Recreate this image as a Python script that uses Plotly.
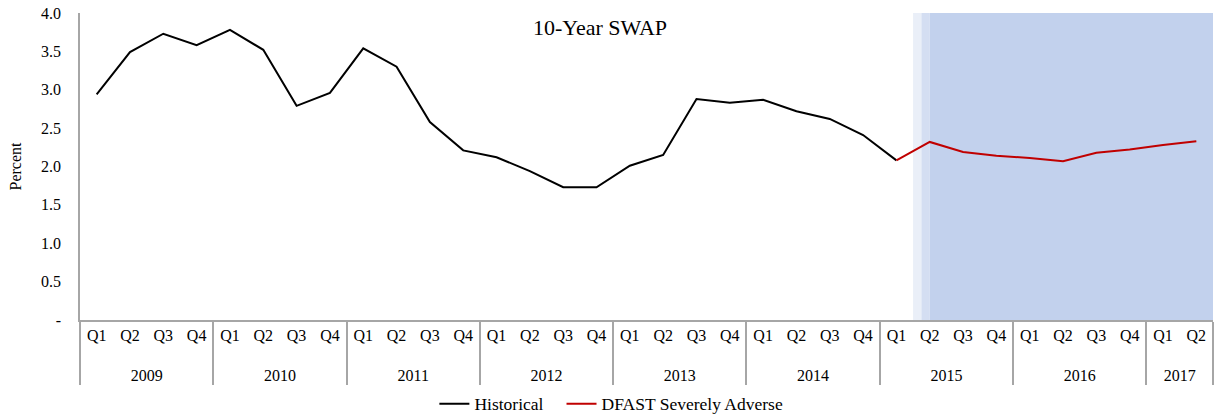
import plotly.graph_objects as go

# quarterly 10-year swap rate, percent
years = ["2009"] * 4 + ["2010"] * 4 + ["2011"] * 4 + ["2012"] * 4 + ["2013"] * 4 \
    + ["2014"] * 4 + ["2015"] * 4 + ["2016"] * 4 + ["2017"] * 2
quarters = ["Q1", "Q2", "Q3", "Q4"] * 8 + ["Q1", "Q2"]

historical = [2.94, 3.49, 3.73, 3.58, 3.78, 3.52, 2.79, 2.96,
              3.54, 3.30, 2.58, 2.21, 2.12, 1.94, 1.73, 1.73,
              2.01, 2.15, 2.88, 2.83, 2.87, 2.72, 2.62, 2.41,
              2.08] + [None] * 9
severely_adverse = [None] * 24 + [2.08, 2.32, 2.19, 2.14, 2.11, 2.07,
                                  2.18, 2.22, 2.28, 2.33]

y_ticks = [0, 0.5, 1.0, 1.5, 2.0, 2.5, 3.0, 3.5, 4.0]
y_labels = ["-", "0.5", "1.0", "1.5", "2.0", "2.5", "3.0", "3.5", "4.0"]

fc_start = 25  # first projected quarter (2015 Q2)
n = len(quarters)
FONT = "Liberation Serif"

# push the year row a bit lower, like the excel layout
year_row = [" <br>" + y for y in years]

fig = go.Figure()

# projection shading: two thin fade bands, then the main block
shade = [("#EAEFF8", fc_start - 0.5, fc_start - 0.25),
         ("#D4DEF2", fc_start - 0.25, fc_start),
         ("#C2D1ED", fc_start, n - 0.5)]
for col, a, b in shade:
    fig.add_shape(type="rect", xref="x", yref="y", x0=a, x1=b, y0=0, y1=4,
                  fillcolor=col, line_width=0, layer="below")

# trailing nbsp's widen the gap between the two legend entries
fig.add_trace(go.Scatter(x=[year_row, quarters], y=historical, mode="lines",
                         name="Historical\u00a0\u00a0\u00a0",
                         line=dict(color="black", width=2)))
fig.add_trace(go.Scatter(x=[year_row, quarters], y=severely_adverse, mode="lines",
                         name="DFAST Severely Adverse",
                         line=dict(color="#C00000", width=2)))

fig.add_annotation(text="10-Year SWAP", x=0.459, y=1.0, xref="paper", yref="paper",
                   yanchor="top", showarrow=False,
                   font=dict(size=22, color="black", family=FONT))

fig.update_layout(
    width=1221, height=418,
    margin=dict(l=80, r=8, t=13, b=98),
    plot_bgcolor="white", paper_bgcolor="white",
    font=dict(family=FONT, size=16, color="black"),
    showlegend=True,
    # container ref so the legend does not squeeze the plot area
    legend=dict(orientation="h", x=0.469, xanchor="center",
                yref="container", y=0.034, yanchor="middle",
                font=dict(size=17.5, family=FONT, color="black")),
    xaxis=dict(type="multicategory", range=[-0.5, n - 0.5], automargin=False,
               showline=True, linecolor="#A6A6A6",
               linewidth=1.5, showgrid=False, showdividers=True,
               dividercolor="#A6A6A6", dividerwidth=1.5, ticks="",
               tickfont=dict(size=16, family=FONT)),
    yaxis=dict(range=[0, 4], tickvals=y_ticks, ticktext=y_labels,
               showline=True, linecolor="#A6A6A6", linewidth=1.5,
               showgrid=False, zeroline=False, ticks="", automargin=False,
               ticklabelstandoff=14, tickfont=dict(size=16, family=FONT),
               title=dict(text="Percent", standoff=15, font=dict(size=16, family=FONT))),
)

# drop the default 8px page margin so the figure sits at the window corner
fig.write_html("out.html", config={"displayModeBar": False},
               post_script="document.body.style.margin = '0';")
